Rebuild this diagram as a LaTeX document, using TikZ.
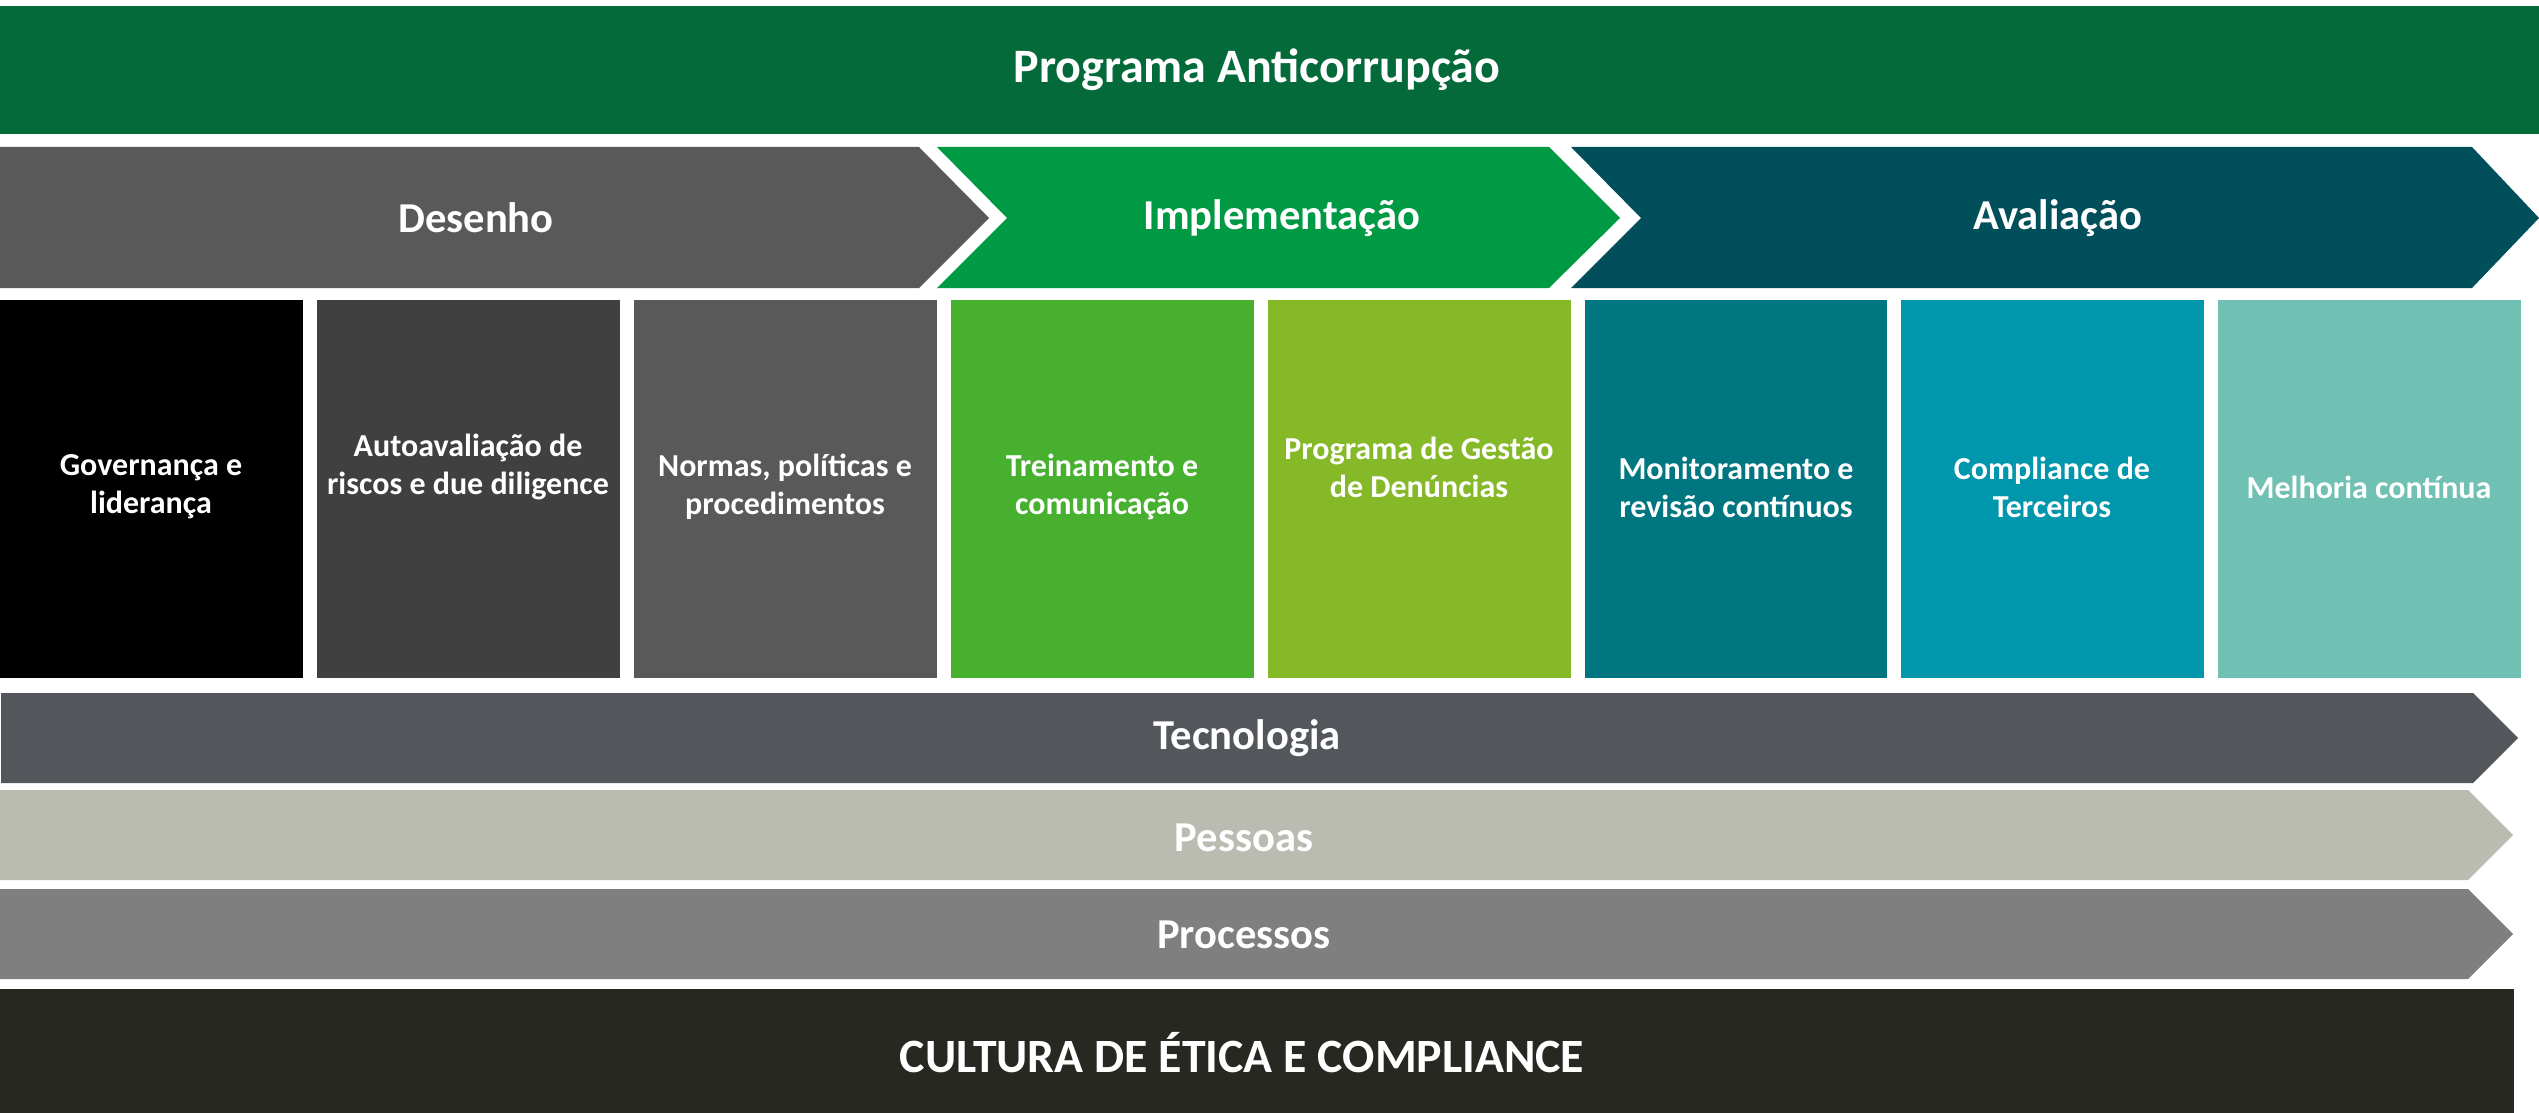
\documentclass[tikz,border=0pt]{standalone}
\usepackage{fontspec}
\setmainfont{Carlito}
\usepackage{tikz}

\definecolor{verdetopo}{HTML}{056A3A}
\definecolor{cinzades}{HTML}{595959}
\definecolor{verdeimp}{HTML}{009A44}
\definecolor{azulaval}{HTML}{004F5A}
\definecolor{caixaum}{HTML}{000000}
\definecolor{caixadois}{HTML}{404040}
\definecolor{caixatres}{HTML}{595959}
\definecolor{caixaquatro}{HTML}{47B02E}
\definecolor{caixacinco}{HTML}{86B927}
\definecolor{caixaseis}{HTML}{007681}
\definecolor{caixasete}{HTML}{0096AB}
\definecolor{caixaoito}{HTML}{70C1B3}
\definecolor{cinzatec}{HTML}{53565A}
\definecolor{cinzapes}{HTML}{BBBCB1}
\definecolor{cinzaproc}{HTML}{7F7F7F}
\definecolor{pretocult}{HTML}{272822}

\tikzset{
	titulo/.style={text=white, font=\bfseries\fontsize{24pt}{28pt}\selectfont},
	fase/.style={text=white, font=\bfseries\fontsize{21.3pt}{25pt}\selectfont},
	caixa/.style={text=white, align=center, font=\bfseries\fontsize{16pt}{19pt}\selectfont},
	faixa/.style={text=white, font=\bfseries\fontsize{21.3pt}{25pt}\selectfont}
}

\begin{document}
\begin{tikzpicture}[x=0.5pt,y=-0.5pt]
		\useasboundingbox (0,0) rectangle (2539,1113);
		
		% topo
		\fill[verdetopo] (0,6) rectangle (2539,134);
		\node[titulo] (programa) at (1257,70) {Programa Anticorrupção};
		
		% fases
		\fill[cinzades] (0,147) -- (919,147) -- (989,218) -- (919,288) -- (0,288) -- cycle;
		\fill[verdeimp] (937,147) -- (1549,147) -- (1620,218) -- (1549,288) -- (937,288) -- (1007,218) -- cycle;
		\fill[azulaval] (1571,147) -- (2472,147) -- (2539,218) -- (2472,288) -- (1571,288) -- (1641,218) -- cycle;
		\node[fase] (desenho) at (476,218) {Desenho};
		\node[fase] (implementacao) at (1282,218) {Implementação};
		\node[fase] (avaliacao) at (2058,218) {Avaliação};
		
		% pilares
		\fill[caixaum] (0,300) rectangle (303,678);
		\fill[caixadois] (317,300) rectangle (620,678);
		\fill[caixatres] (634,300) rectangle (937,678);
		\fill[caixaquatro] (951,300) rectangle (1254,678);
		\fill[caixacinco] (1268,300) rectangle (1571,678);
		\fill[caixaseis] (1585,300) rectangle (1887,678);
		\fill[caixasete] (1901,300) rectangle (2204,678);
		\fill[caixaoito] (2218,300) rectangle (2521,678);
		
		\node[caixa] (governanca) at (151,487) {Governança e\\liderança};
		\node[caixa] (autoavaliacao) at (468,467) {Autoavaliação de\\riscos e due diligence};
		\node[caixa] (normas) at (785,487) {Normas, políticas e\\procedimentos};
		\node[caixa] (treinamento) at (1102,487) {Treinamento e\\comunicação};
		\node[caixa] (denuncias) at (1419,467) {Programa de Gestão\\de Denúncias};
		\node[caixa] (monitoramento) at (1736,487) {Monitoramento e\\revisão contínuos};
		\node[caixa] (terceiros) at (2052,487) {Compliance de\\Terceiros};
		\node[caixa] (melhoria) at (2369,487) {Melhoria contínua};
		
		% bases
		\fill[cinzatec] (1,693) -- (2473,693) -- (2518,738) -- (2473,783) -- (1,783) -- cycle;
		\fill[cinzapes] (0,790) -- (2468,790) -- (2513,835) -- (2468,880) -- (0,880) -- cycle;
		\fill[cinzaproc] (0,889) -- (2468,889) -- (2513,934) -- (2468,979) -- (0,979) -- cycle;
		\node[faixa] (tecnologia) at (1247,738) {Tecnologia};
		\node[faixa] (pessoas) at (1244,838) {Pessoas};
		\node[faixa] (processos) at (1244,935) {Processos};
		
		\fill[pretocult] (0,989) rectangle (2514,1113);
		\node[titulo, font=\bfseries\fontsize{23.9pt}{28pt}\selectfont] (cultura) at (1242,1053) {CULTURA DE ÉTICA E COMPLIANCE};
	\end{tikzpicture}
\end{document}
